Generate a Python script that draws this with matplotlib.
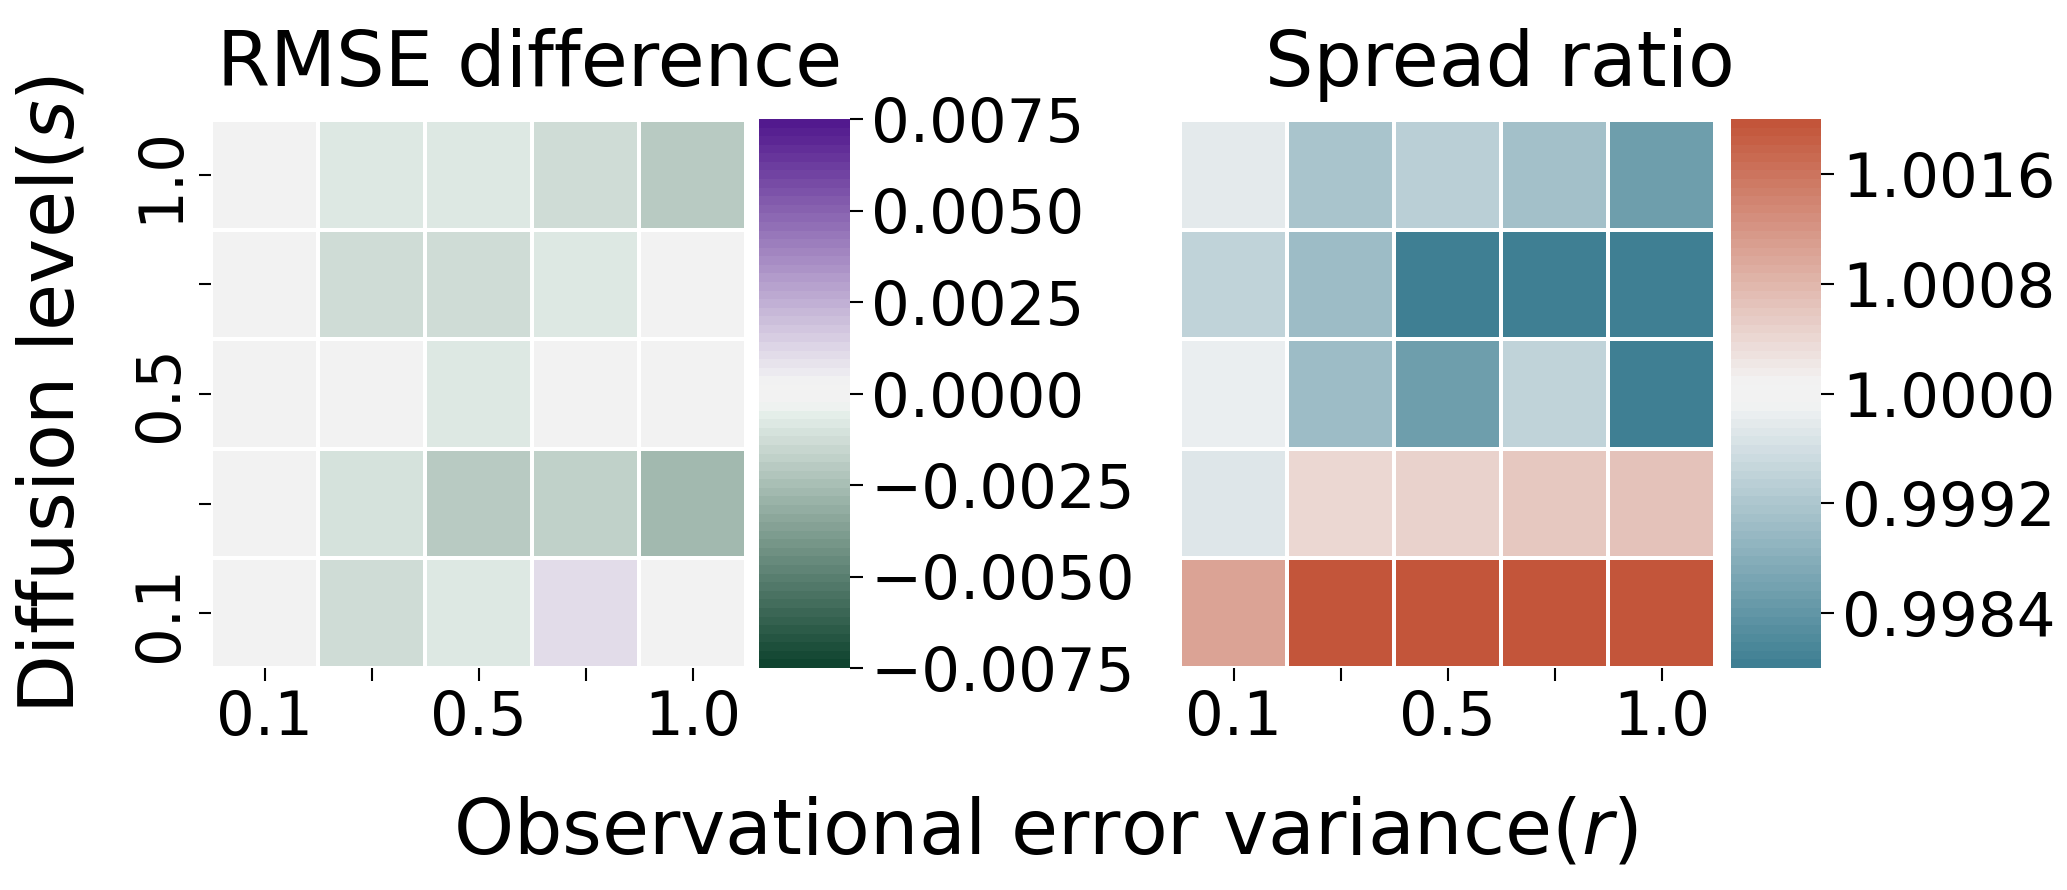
import numpy as np
import matplotlib
matplotlib.use("Agg")
import matplotlib.pyplot as plt
from matplotlib.ticker import FuncFormatter
import seaborn as sns

# ---- data ----
r_labels = ["0.1", "0.25", "0.5", "0.75", "1.0"]   # observational error variance (columns)
s_labels = ["0.1", "0.25", "0.5", "0.75", "1.0"]   # diffusion level (rows, bottom -> top)

rmse_s01 = [0.0, -0.0014, -0.0008, 0.0011, 0.0]
rmse_s025 = [0.0, -0.0011, -0.0021, -0.0017, -0.0026]
rmse_s05 = [0.0, 0.0, -0.0008, 0.0, 0.0]
rmse_s075 = [0.0, -0.0014, -0.0014, -0.0009, 0.0]
rmse_s10 = [0.0, -0.0008, -0.0008, -0.0012, -0.0021]

spread_s01 = [1.00105, 1.0021, 1.0021, 1.0021, 1.0021]
spread_s025 = [0.99972, 1.0004, 1.0005, 1.0006, 1.00065]
spread_s05 = [0.99985, 0.9990, 0.99856, 0.99942, 0.9979]
spread_s075 = [0.9994, 0.9990, 0.99804, 0.9979, 0.9979]
spread_s10 = [0.99975, 0.99917, 0.99936, 0.99908, 0.99856]

rmse_ticks = [-0.0075, -0.005, -0.0025, 0.0, 0.0025, 0.005, 0.0075]
spread_ticks = [0.9984, 0.9992, 1.0, 1.0008, 1.0016]

rmse = np.array([rmse_s01, rmse_s025, rmse_s05, rmse_s075, rmse_s10])
spread = np.array([spread_s01, spread_s025, spread_s05, spread_s075, spread_s10])

W, H = 2067, 890
fig = plt.figure(figsize=(W / 100, H / 100), dpi=100)

def box(x0, x1, y0, y1):
    return [x0 / W, 1 - y1 / H, (x1 - x0) / W, (y1 - y0) / H]

cmap_l = sns.diverging_palette(150, 278, s=88, l=25, sep=12, as_cmap=True).resampled(64)
cmap_r = sns.diverging_palette(220, 20, sep=12, as_cmap=True).resampled(64)

TICK_FS = 44
LAB_FS = 55

def heat(ax, cax, data, cmap, vmin, vmax, ticks, show_y):
    n_r, n_c = data.shape
    mesh = ax.pcolormesh(np.arange(n_c + 1), np.arange(n_r + 1), data, cmap=cmap,
                         vmin=vmin, vmax=vmax, edgecolors="white", linewidth=1.5)
    ax.set_xlim(0, n_c)
    ax.set_ylim(0, n_r)
    for sp in ax.spines.values():
        sp.set_visible(False)
    ax.set_xticks(np.arange(n_c) + 0.5)
    ax.set_xticklabels([l if i % 2 == 0 else "" for i, l in enumerate(r_labels)], fontsize=TICK_FS)
    ax.tick_params(axis="x", length=9, width=1.5, pad=6)
    if show_y:
        ax.set_yticks(np.arange(n_r) + 0.5)
        ax.set_yticklabels([l if i % 2 == 0 else "" for i, l in enumerate(s_labels)],
                           fontsize=TICK_FS, rotation=90, va="center")
        ax.tick_params(axis="y", length=9, width=1.5, pad=6)
    else:
        ax.set_yticks([])
    cb = fig.colorbar(mesh, cax=cax, ticks=ticks)
    cb.outline.set_visible(False)
    cb.ax.tick_params(labelsize=TICK_FS, length=9, width=1.5, pad=6)
    cb.ax.yaxis.set_major_formatter(FuncFormatter(lambda v, p: f"{v:.4f}".replace("-", "\u2212")))
    return cb

ax1 = fig.add_axes(box(211, 746, 120, 668))
cax1 = fig.add_axes(box(759, 850, 119, 668))
ax2 = fig.add_axes(box(1180, 1715, 120, 668))
cax2 = fig.add_axes(box(1731, 1821, 119, 668))

heat(ax1, cax1, rmse, cmap_l, -0.0075, 0.0075, rmse_ticks, True)
heat(ax2, cax2, spread, cmap_r, 0.998, 1.002, spread_ticks, False)

fig.text(530 / W, 1 - 86 / H, "RMSE difference", ha="center", va="baseline", fontsize=LAB_FS)
fig.text(1500 / W, 1 - 86 / H, "Spread ratio", ha="center", va="baseline", fontsize=LAB_FS)
fig.text(1045 / W, 1 - 854 / H, "Observational error variance($r$)", ha="center", va="baseline",
         fontsize=LAB_FS)
fig.text(16 / W, 1 - 394 / H, "Diffusion level($s$)", ha="left", va="center", rotation=90,
         fontsize=LAB_FS)

fig.savefig("out.png", dpi=100)
